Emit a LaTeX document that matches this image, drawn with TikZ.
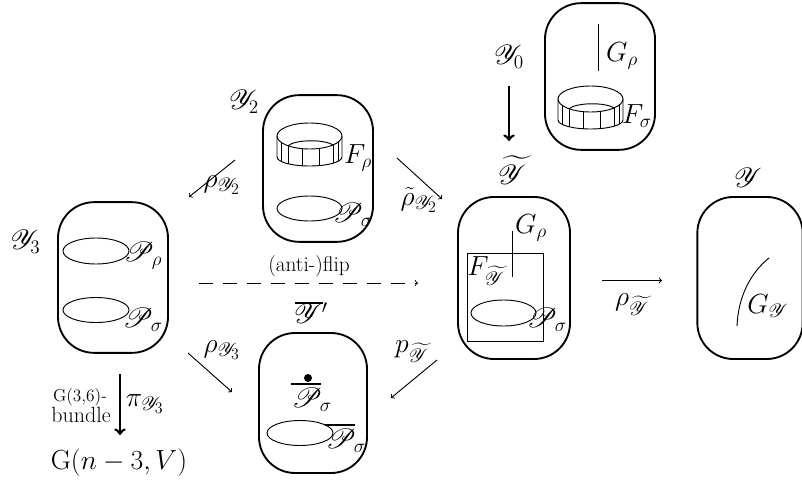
\documentclass[tikz,border=0pt]{standalone}
\usepackage{amsmath,amssymb}
\usepackage{mathrsfs}
\newcommand{\Yc}{\mathscr{Y}}
\newcommand{\Pc}{\mathscr{P}}
\tikzset{
  blob/.style={draw,line width=1.4pt,rounded corners=27pt,inner sep=0pt},
  lab/.style={inner sep=0pt,font=\huge},
  thinline/.style={line width=0.7pt},
  mapto/.style={->,line width=0.7pt},
  bigmap/.style={->,line width=2pt},
}
% cylinder with its left rim point at (#1,#2)
\newcommand{\drawflange}[2]{
\begin{scope}[shift={(#1,#2)},thinline]
\draw (32.5,0) ellipse (32.5 and 13);
\draw (11,9.8) .. controls (18,3.5) and (47,3) .. (56,9);
\draw (0,0) -- (0,21) arc (180:0:32.5 and 9) -- (65,0);
\draw (4,6.2) -- (4,25.3);
\draw (11,9.8) -- (11,27.8);
\draw (25,12.6) -- (25,29.8);
\draw (42,12.4) -- (42,29.6);
\draw (56,9) -- (56,27.2);
\draw (61,6.2) -- (61,25.3);
\end{scope}
}
\begin{document}
\begin{tikzpicture}[x=0.75pt,y=0.75pt,yscale=-1,xscale=1]
\useasboundingbox (0,0) rectangle (802,481);
% the boxes
\node[blob,minimum width=82.5pt,minimum height=113pt] (boxThree) at (113,277.5) {};
\node[blob,minimum width=82.5pt,minimum height=110pt] (boxTwo) at (318,168.5) {};
\node[blob,minimum width=82.5pt,minimum height=110pt] (boxZero) at (600,76.5) {};
\node[blob,minimum width=84pt,minimum height=121.5pt] (boxTilde) at (514,278) {};
\node[blob,minimum width=79pt,minimum height=121.5pt] (boxY) at (750,278) {};
\node[blob,minimum width=81pt,minimum height=105pt] (boxBar) at (313,403) {};
% contents
\draw[thinline] (96,251) ellipse (33 and 13);
\draw[thinline] (96,310) ellipse (33 and 12.5);
\draw[thinline] (309.5,208.5) ellipse (32.5 and 12.5);
\draw[thinline] (300,433) ellipse (33 and 12.5);
\draw[thinline] (503.5,313) ellipse (32.5 and 13);
\drawflange{277}{136}
\drawflange{558}{99}
\draw[thinline] (598,24) -- (598,71);
\draw[thinline] (467,253) rectangle (543,341);
\draw[thinline] (512,231) -- (512,277);
\draw[thinline] (769,258) .. controls (750,273) and (738,298) .. (737,326);
\draw[line width=1.5pt] (295,303) -- (323,303);
\draw[line width=1.2pt] (291,384) -- (321,384);
\draw[line width=1.8pt] (325,425) -- (355,425);
\fill (308,378) circle (4);
% labels
\node[lab] (nameThree) at (25.5,242) {$\Yc_3$};
\node[lab] (nameTwo) at (244,102) {$\Yc_2$};
\node[lab] (nameZero) at (509,57) {$\Yc_0$};
\node[lab] (nameTilde) at (512,170) {$\widetilde{\Yc}$};
\node[lab] (nameY) at (748,178) {$\Yc$};
\node[lab] (nameBar) at (311,313) {$\Yc'$};
\node[lab] (pRho) at (143,256) {$\Pc_\rho$};
\node[lab] (pSigmaThree) at (143,320) {$\Pc_\sigma$};
\node[lab] (pSigmaTwo) at (353,215) {$\Pc_\sigma$};
\node[lab] (pSigmaTilde) at (547,320) {$\Pc_\sigma$};
\node[lab] (pSigmaUp) at (312,400) {$\Pc_\sigma$};
\node[lab] (pSigmaLow) at (346,441) {$\Pc_\sigma$};
\node[lab] (fRho) at (358,158) {$F_\rho$};
\node[lab] (fSigma) at (637,116) {$F_\sigma$};
\node[lab] (gRhoZero) at (622,56) {$G_\rho$};
\node[lab] (gRhoTilde) at (531,228) {$G_\rho$};
\node[lab] (fTilde) at (486,271) {$F_{\widetilde{\Yc}}$};
\node[lab] (gY) at (768,306) {$G_{\Yc}$};
\node[lab] (mapThree) at (222,185) {$\rho_{\Yc_2}$};
\node[lab] (mapTildeTwo) at (419,200) {$\tilde\rho_{\Yc_2}$};
\node[lab] (mapRhoThree) at (222,350) {$\rho_{\Yc_3}$};
\node[lab] (mapP) at (412,352) {$p_{\widetilde{\Yc}}$};
\node[lab] (mapRhoTilde) at (632,305) {$\rho_{\widetilde{\Yc}}$};
\node[lab] (mapPi) at (145,404) {$\pi_{\Yc_3}$};
\node[inner sep=0pt,font=\fontsize{13}{15}\selectfont] (bundleA) at (80,397) {G(3,6)-};
\node[inner sep=0pt,font=\fontsize{16.5}{18}\selectfont] (bundleB) at (81,415) {bundle};
\node[lab] (grass) at (119,463) {$\mathrm{G}(n-3,V)$};
\node[inner sep=0pt,font=\fontsize{16}{18}\selectfont] (flipLabel) at (309,266) {(anti-)flip};
% arrows
\coordinate (aOne) at (235,160);
\coordinate (aTwo) at (189,197);
\coordinate (bOne) at (397,158);
\coordinate (bTwo) at (442,199);
\coordinate (cOne) at (188,353);
\coordinate (cTwo) at (232,392);
\coordinate (dOne) at (437,360);
\coordinate (dTwo) at (391,398);
\coordinate (eOne) at (602,280.5);
\coordinate (eTwo) at (662,280.5);
\coordinate (fOne) at (509,86);
\coordinate (fTwo) at (509,141);
\coordinate (gOne) at (120,374);
\coordinate (gTwo) at (120,435);
\coordinate (hOne) at (199,283);
\coordinate (hTwo) at (418,283);
\draw[mapto] (aOne) -- (aTwo);
\draw[mapto] (bOne) -- (bTwo);
\draw[mapto] (cOne) -- (cTwo);
\draw[mapto] (dOne) -- (dTwo);
\draw[mapto] (eOne) -- (eTwo);
\draw[bigmap] (fOne) -- (fTwo);
\draw[bigmap] (gOne) -- (gTwo);
\draw[mapto,dash pattern=on 10.5pt off 7.5pt] (hOne) -- (hTwo);
\end{tikzpicture}
\end{document}
